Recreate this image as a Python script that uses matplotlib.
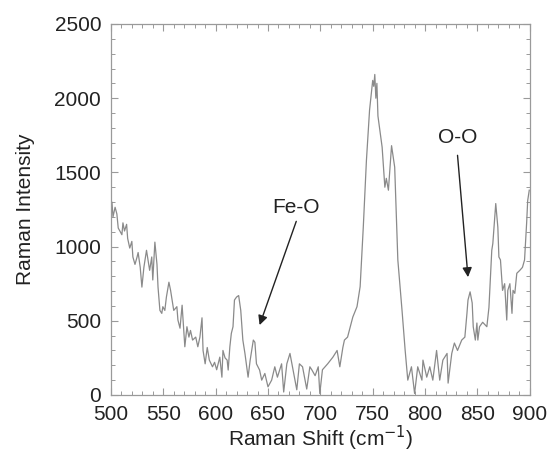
import matplotlib
matplotlib.use("Agg")
import matplotlib.pyplot as plt
from matplotlib.ticker import MultipleLocator

plt.rcParams['font.family'] = ['Liberation Sans', 'DejaVu Sans']

shift = [500, 501, 502, 504, 505.7, 507, 508.6, 510.5, 511.5, 513, 515, 516, 518, 520, 521, 523, 525, 526,
         528, 529.6, 531.5, 534, 535, 537, 539, 540, 542, 544, 545, 546.8, 548.6, 549.6, 551.5, 553,
         555.4, 557, 558, 560, 563, 564, 566, 568, 569.7, 570.6, 572.6, 574.5, 576, 578, 581, 583, 585,
         587, 588, 590, 592, 594, 597, 599, 601, 604, 606, 607, 609, 611, 612, 613.6, 615, 616.6, 618,
         620, 622, 624, 626, 628, 631, 633, 636, 637.5, 639, 642, 644, 647, 650, 653.5, 656.5, 659, 663,
         665, 668, 671, 674, 677.5, 680, 683, 687, 690, 692, 695, 698, 699.5, 702, 707, 712, 716, 718.6,
         721.5, 723, 726, 731, 735, 738, 741, 744, 747, 750, 751, 752, 753, 754, 755, 759, 761.6, 763,
         765, 768, 771, 774, 778, 781, 783.5, 787, 790, 793, 797, 798, 801.6, 804.5, 807.4, 811, 814,
         817, 821, 822, 825.5, 828, 831, 835, 838, 840, 841, 843, 845, 846, 848, 849.5, 850.4, 852, 855,
         859, 861, 863.7, 864.7, 867.5, 869.5, 870.5, 872, 874, 876, 878, 879, 881, 883, 884, 885.7,
         887.6, 890.5, 893, 895, 897, 898, 899.5]
intensity = [1290, 1300, 1200, 1265, 1220, 1125, 1105, 1080, 1160, 1105, 1150, 1055, 990, 1035, 930, 880,
             930, 960, 860, 727, 860, 975, 930, 840, 930, 775, 1030, 880, 727, 570, 550, 595, 570, 660,
             760, 705, 660, 570, 595, 505, 450, 605, 415, 325, 460, 390, 435, 370, 390, 325, 390,
             520, 300, 210, 320, 235, 190, 220, 170, 255, 120, 300, 250, 235, 168, 325, 415, 460, 640,
             660, 670, 570, 370, 280, 120, 235, 370, 355, 210, 168, 100, 145, 55, 100, 190, 120, 210,
             20, 210, 280, 168, 35, 210, 190, 40, 190, 168, 130, 190, 10, 170, 210, 255, 300, 190,
             320, 370, 390, 525, 595, 730, 1130, 1580, 1920, 2120, 2080, 2160, 2000, 2100, 1880, 1670,
             1400, 1460, 1380, 1680, 1535, 910, 570, 300, 100, 190, 10, 190, 100, 235, 120, 190, 100,
             300, 100, 235, 280, 80, 280, 350, 300, 370, 390, 550, 640, 695, 620, 460, 370, 485, 370,
             460, 490, 460, 590, 975, 1020, 1290, 1130, 930, 910, 705, 750, 505, 705, 750, 550, 705,
             685, 820, 840, 860, 910, 1160, 1310, 1380]

labels = ["Fe-O", "O-O"]
label_xy = [(677, 1265), (831, 1736)]
arrow_start = [(677, 1170), (831, 1615)]
arrow_tip = [(642, 471), (841, 794)]

fig = plt.figure(figsize=(5.49, 4.58), dpi=100)
ax = fig.add_axes([0.202, 0.1376, 0.763, 0.81])
ax.plot(shift, intensity, color='#8a8a8a', lw=0.9)

ax.set_xlim(500, 900)
ax.set_ylim(0, 2500)
ax.xaxis.set_major_locator(MultipleLocator(50))
ax.xaxis.set_minor_locator(MultipleLocator(10))
ax.yaxis.set_major_locator(MultipleLocator(500))
ax.yaxis.set_minor_locator(MultipleLocator(100))
ax.tick_params(which='both', direction='in', top=True, right=True, color='#9a9a9a',
               labelsize=15, labelcolor='#222222')
ax.tick_params(axis='x', which='major', pad=7)
ax.tick_params(axis='y', which='major', pad=7)
ax.tick_params(which='major', length=5, width=0.8)
ax.tick_params(which='minor', length=3, width=0.7)
for s in ax.spines.values():
    s.set_color('#9a9a9a')
    s.set_linewidth(0.9)

ax.set_xlabel('Raman Shift (cm$^{-1}$)', fontsize=15, color='#222222', labelpad=0)
ax.set_ylabel('Raman Intensity', fontsize=15, color='#222222', labelpad=14)

for lab, lxy, st, tp in zip(labels, label_xy, arrow_start, arrow_tip):
    ax.text(lxy[0], lxy[1], lab, fontsize=15, ha='center', va='center', color='#222222')
    ax.annotate('', xy=tp, xytext=st,
                arrowprops=dict(arrowstyle='-|>', color='#222222', lw=1.0,
                                mutation_scale=14, shrinkA=0, shrinkB=0))

fig.savefig('out.png', dpi=100)
